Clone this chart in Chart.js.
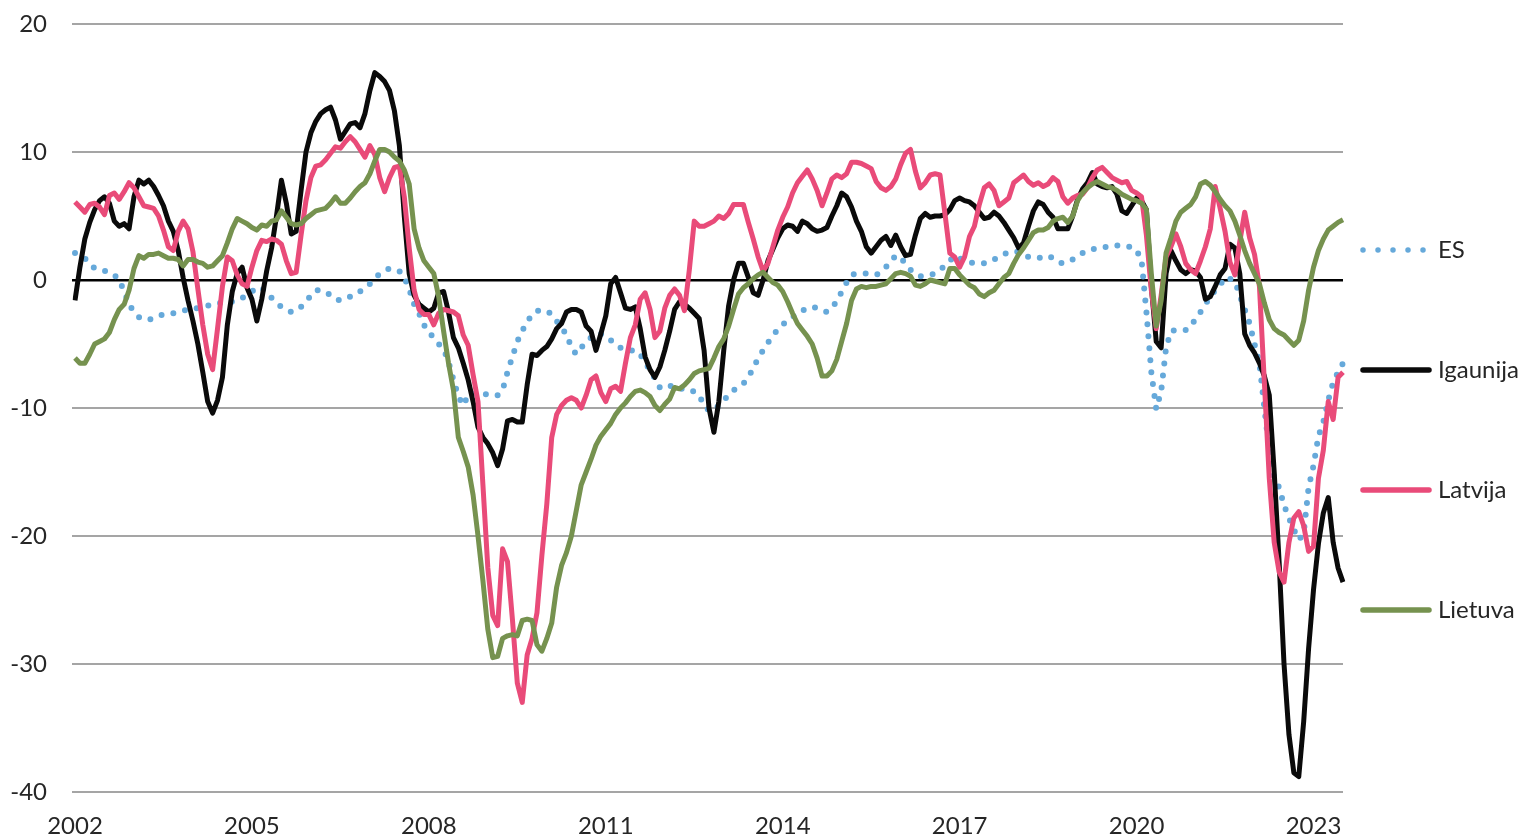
<!DOCTYPE html>
<html>
<head>
<meta charset="utf-8">
<script src="https://cdn.jsdelivr.net/npm/chart.js"></script>
<style>
html,body{margin:0;padding:0;background:#ffffff;}
#wrap{width:1527px;height:838px;position:relative;}
</style>
</head>
<body>
<div id="wrap"><canvas id="c" width="1527" height="838"></canvas></div>
<script>
const startYear = 2002;
const tickYears = [2002, 2005, 2008, 2011, 2014, 2017, 2020, 2023];
const seriesNames = ["ES", "Igaunija", "Latvija", "Lietuva"];

const es = [
 2.1, 1.9, 1.7, 1.3, 0.9, 0.8, 0.7, 0.65, 0.4, 0.0,
 -0.9, -1.9, -2.5, -2.9, -3.1, -3.1, -3.0, -2.8, -2.7, -2.6,
 -2.6, -2.5, -2.4, -2.3, -2.2, -2.2, -2.1, -2.0, -1.9, -1.8,
 -1.8, -1.7, -1.7, -1.6, -1.4, -1.2, -0.9, -0.6, -0.6, -1.0,
 -1.4, -1.8, -2.1, -2.3, -2.5, -2.4, -2.1, -1.7, -1.2, -0.8,
 -0.8, -0.9, -1.2, -1.5, -1.6, -1.5, -1.3, -1.2, -0.9, -0.6,
 -0.3, 0.1, 0.5, 0.7, 0.9, 0.8, 0.7, 0.2, -0.7, -1.9,
 -2.6, -3.5, -4.1, -4.5, -5.0, -5.4, -6.4, -7.8, -9.1, -9.8,
 -9.0, -8.9, -8.8, -8.8, -9.0, -9.0, -9.0, -8.6, -7.2, -6.0,
 -4.8, -4.0, -3.2, -2.8, -2.4, -2.4, -2.4, -2.7, -3.2, -3.8,
 -4.2, -5.3, -5.8, -5.3, -4.8, -4.5, -4.2, -4.2, -4.4, -4.7,
 -5.0, -5.3, -5.5, -5.5, -5.5, -5.8, -6.5, -7.0, -7.7, -8.4,
 -8.5, -8.3, -8.2, -8.4, -8.6, -8.7, -8.7, -9.0, -9.8, -10.2,
 -10.2, -9.8, -9.4, -9.0, -8.6, -8.4, -8.1, -7.6, -6.9, -6.1,
 -5.5, -4.9, -4.3, -3.9, -3.5, -3.1, -2.9, -2.6, -2.4, -2.2,
 -2.1, -2.2, -2.4, -2.5, -2.1, -1.7, -0.9, -0.2, 0.4, 0.5,
 0.5, 0.5, 0.4, 0.4, 0.6, 1.0, 1.5, 1.9, 1.8, 1.2,
 0.8, 0.5, 0.3, 0.3, 0.4, 0.5, 0.8, 1.1, 1.5, 1.9,
 1.7, 1.5, 1.4, 1.3, 1.3, 1.3, 1.4, 1.6, 1.8, 2.0,
 2.2, 2.2, 2.2, 2.0, 1.8, 1.7, 1.7, 1.8, 1.9, 1.7,
 1.4, 1.3, 1.4, 1.6, 1.8, 2.1, 2.3, 2.4, 2.5, 2.5,
 2.6, 2.6, 2.7, 2.7, 2.6, 2.6, 2.3, 1.6, -2.5, -7.2,
 -10.1, -8.7, -5.3, -4.0, -3.9, -3.9, -3.9, -3.7, -3.0, -2.5,
 -1.9, -1.3, -0.8, -0.4, 0.2, 0.1, -0.1, -1.2, -2.3, -3.4,
 -5.0, -6.5, -10.0, -13.3, -15.5, -16.2, -17.6, -18.6, -19.5, -20.3,
 -19.8, -16.2, -14.5, -12.2, -11.1, -9.4, -8.0, -7.2, -6.5
];

const igaunija = [
 -1.6, 1.0, 3.2, 4.5, 5.5, 6.2, 6.5, 6.0, 4.6, 4.2,
 4.4, 4.0, 6.5, 7.8, 7.5, 7.8, 7.3, 6.6, 5.8, 4.6,
 3.8, 2.3, 0.2, -1.6, -3.2, -5.0, -7.2, -9.5, -10.4, -9.4,
 -7.6, -3.5, -0.9, 0.5, 1.0, -0.6, -1.5, -3.2, -1.5, 0.7,
 2.5, 5.0, 7.8, 6.0, 3.6, 3.8, 7.0, 10.0, 11.5, 12.4,
 13.0, 13.3, 13.5, 12.5, 11.0, 11.6, 12.2, 12.3, 11.9, 13.0,
 14.8, 16.2, 15.9, 15.5, 14.8, 13.2, 10.5, 5.0, 0.5, -1.2,
 -1.9, -2.2, -2.5, -2.2, -1.0, -0.9, -2.5, -4.5, -5.3, -6.5,
 -7.8, -9.5, -11.5, -12.3, -12.8, -13.5, -14.5, -13.2, -11.0, -10.9,
 -11.1, -11.1, -8.2, -5.8, -5.9, -5.5, -5.2, -4.6, -3.8, -3.4,
 -2.5, -2.3, -2.3, -2.5, -3.6, -4.0, -5.5, -4.2, -2.8, -0.3,
 0.2, -1.0, -2.2, -2.3, -2.1, -3.8, -6.0, -7.0, -7.6, -6.8,
 -5.5, -4.0, -2.3, -1.7, -1.9, -2.2, -2.6, -3.0, -5.5, -10.0,
 -11.9, -9.5, -5.5, -2.0, 0.0, 1.3, 1.3, 0.2, -1.0, -1.2,
 0.0, 1.5, 2.4, 3.3, 4.0, 4.3, 4.2, 3.8, 4.6, 4.4,
 4.0, 3.8, 3.9, 4.1, 5.0, 5.8, 6.8, 6.5, 5.7, 4.6,
 3.8, 2.6, 2.1, 2.6, 3.1, 3.4, 2.7, 3.5, 2.6, 1.9,
 2.0, 3.5, 4.8, 5.2, 4.9, 5.0, 5.0, 5.1, 5.5, 6.2,
 6.4, 6.2, 6.1, 5.8, 5.3, 4.8, 4.9, 5.3, 5.0, 4.5,
 3.9, 3.3, 2.5, 2.9, 4.2, 5.4, 6.1, 5.9, 5.3, 4.9,
 4.0, 4.0, 4.0, 5.0, 6.3, 7.1, 7.6, 8.4, 7.5, 7.3,
 7.2, 7.3, 6.7, 5.4, 5.2, 5.8, 6.4, 6.2, 5.5, -0.5,
 -4.8, -5.3, 0.5, 2.3, 1.5, 0.8, 0.5, 0.8, 0.7, 0.2,
 -1.5, -1.3, -0.5, 0.4, 0.9, 2.8, 2.5, 0.5, -4.2, -5.1,
 -5.7, -6.5, -7.5, -9.0, -15.0, -22.0, -30.0, -35.5, -38.5, -38.8,
 -34.5, -28.8, -24.2, -20.6, -18.2, -17.0, -20.5, -22.5, -23.6
];

const latvija = [
 6.1, 5.7, 5.3, 5.9, 6.0, 5.7, 5.1, 6.6, 6.8, 6.3,
 6.9, 7.6, 7.2, 6.5, 5.8, 5.7, 5.6, 5.0, 3.9, 2.6,
 2.3, 3.8, 4.6, 4.0, 2.2, -0.7, -3.5, -5.8, -7.0, -3.8,
 -0.5, 1.8, 1.5, 0.4, -0.3, -0.5, 1.0, 2.3, 3.1, 3.0,
 3.2, 3.1, 2.8, 1.5, 0.5, 0.6, 3.5, 6.2, 8.0, 8.9,
 9.0, 9.4, 9.9, 10.4, 10.3, 10.8, 11.2, 10.8, 10.2, 9.6,
 10.5, 9.8, 8.0, 6.9, 8.0, 8.8, 8.9, 6.5, 2.5, -0.8,
 -2.3, -2.7, -2.7, -3.5, -2.6, -2.3, -2.4, -2.5, -2.8, -4.3,
 -5.1, -7.4, -9.5, -16.0, -22.5, -26.2, -27.0, -21.0, -22.0, -26.5,
 -31.5, -33.0, -29.3, -28.0, -26.0, -21.5, -17.5, -12.3, -10.5, -9.8,
 -9.4, -9.2, -9.4, -10.0, -9.0, -7.8, -7.5, -8.8, -9.5, -8.5,
 -8.3, -8.7, -6.5, -4.5, -3.5, -1.5, -1.0, -2.3, -4.5, -4.0,
 -2.2, -1.2, -0.7, -1.2, -2.4, 0.8, 4.6, 4.2, 4.2, 4.4,
 4.6, 5.0, 4.8, 5.2, 5.9, 5.9, 5.9, 4.5, 3.2, 1.8,
 0.7, 1.3, 2.6, 3.9, 4.9, 5.7, 6.8, 7.6, 8.1, 8.6,
 7.9, 7.0, 5.8, 6.8, 7.9, 8.2, 8.0, 8.3, 9.2, 9.2,
 9.1, 8.9, 8.7, 7.7, 7.2, 7.0, 7.3, 7.9, 9.0, 9.9,
 10.2, 8.5, 7.2, 7.6, 8.2, 8.3, 8.2, 5.2, 2.1, 1.8,
 1.0, 1.8, 3.4, 4.2, 5.9, 7.2, 7.5, 7.0, 5.8, 6.1,
 6.4, 7.6, 7.9, 8.2, 7.7, 7.4, 7.6, 7.3, 7.5, 8.0,
 7.7, 6.5, 6.0, 6.4, 6.6, 6.7, 7.2, 8.0, 8.6, 8.8,
 8.4, 8.0, 7.8, 7.6, 7.7, 7.0, 6.8, 6.5, 3.5, -0.8,
 -3.8, -1.2, 1.8, 2.6, 3.6, 2.6, 1.3, 0.8, 0.5, 1.5,
 2.6, 4.0, 7.3, 5.6, 3.8, 1.4, 0.4, 3.0, 5.3, 3.3,
 2.0, -0.5, -8.0, -15.5, -20.5, -22.8, -23.6, -20.5, -18.6, -18.1,
 -19.2, -21.2, -20.8, -15.5, -13.3, -9.5, -10.9, -7.6, -7.2
];

const lietuva = [
 -6.1, -6.5, -6.5, -5.8, -5.0, -4.8, -4.6, -4.1, -3.1, -2.3,
 -1.9, -0.8, 0.9, 1.9, 1.7, 2.0, 2.0, 2.1, 1.9, 1.7,
 1.7, 1.6, 1.1, 1.6, 1.6, 1.4, 1.3, 1.0, 1.1, 1.5,
 1.9, 2.9, 4.0, 4.8, 4.6, 4.4, 4.1, 3.9, 4.3, 4.2,
 4.6, 4.7, 5.4, 4.9, 4.4, 4.3, 4.4, 4.8, 5.1, 5.4,
 5.5, 5.6, 6.0, 6.5, 6.0, 6.0, 6.4, 6.9, 7.3, 7.6,
 8.3, 9.3, 10.2, 10.2, 10.0, 9.6, 9.3, 8.6, 7.5, 4.0,
 2.5, 1.5, 1.0, 0.5, -1.3, -4.0, -6.5, -8.6, -12.3, -13.4,
 -14.6, -16.8, -20.0, -23.5, -27.3, -29.5, -29.4, -28.0, -27.8, -27.7,
 -27.8, -26.6, -26.5, -26.6, -28.5, -29.0, -28.0, -26.8, -24.0, -22.3,
 -21.3, -20.0, -18.0, -16.0, -15.0, -14.0, -12.9, -12.2, -11.7, -11.2,
 -10.5, -10.0, -9.6, -9.1, -8.7, -8.6, -8.8, -9.1, -9.8, -10.2,
 -9.7, -9.3, -8.4, -8.5, -8.2, -7.8, -7.3, -7.1, -7.0, -6.9,
 -6.1, -5.2, -4.6, -3.6, -2.3, -1.1, -0.6, -0.3, 0.1, 0.4,
 0.6, 0.2, -0.2, -0.4, -0.9, -1.7, -2.6, -3.4, -3.9, -4.4,
 -5.0, -6.1, -7.5, -7.5, -7.1, -6.2, -4.8, -3.4, -1.6, -0.7,
 -0.5, -0.6, -0.5, -0.5, -0.4, -0.3, 0.1, 0.5, 0.6, 0.5,
 0.3, -0.4, -0.5, -0.3, 0.0, -0.1, -0.2, -0.3, 0.9, 0.9,
 0.4, 0.0, -0.4, -0.6, -1.1, -1.3, -1.0, -0.8, -0.3, 0.2,
 0.5, 1.3, 2.0, 2.5, 3.1, 3.7, 3.9, 3.9, 4.1, 4.6,
 4.8, 4.9, 4.5, 5.0, 6.2, 6.8, 7.2, 7.5, 7.7, 7.5,
 7.3, 7.2, 7.0, 6.7, 6.5, 6.3, 6.2, 6.0, 5.5, 0.5,
 -3.6, -1.6, 2.1, 3.3, 4.6, 5.3, 5.6, 5.9, 6.5, 7.5,
 7.7, 7.4, 6.9, 6.3, 5.8, 5.4, 4.6, 3.5, 2.3, 1.3,
 0.5, -0.3, -1.8, -3.1, -3.8, -4.1, -4.3, -4.7, -5.1, -4.7,
 -3.2, -0.8, 1.0, 2.3, 3.2, 3.9, 4.2, 4.5, 4.7
];

const categories = [];
for (let i = 0; i < igaunija.length; i++) {
  const y = startYear + Math.floor(i / 12);
  const mo = (i % 12) + 1;
  categories.push(y + "-" + String(mo).padStart(2, "0"));
}

const colors = {
  ES: "#66A9DA",
  Igaunija: "#0a0a0a",
  Latvija: "#E94B79",
  Lietuva: "#76924F"
};

const FONT = "Lato";

const sideLegend = {
  id: "sideLegend",
  afterDraw(chart) {
    const ctx = chart.ctx;
    const rows = [250, 370, 490, 610];
    chart.data.datasets.forEach((ds, i) => {
      const y = rows[i];
      ctx.save();
      ctx.strokeStyle = ds.borderColor;
      ctx.lineWidth = 5.5;
      ctx.lineCap = "round";
      if (ds.borderDash && ds.borderDash.length) {
        ctx.setLineDash([0, 15]);
        ctx.beginPath();
        ctx.moveTo(1363, y);
        ctx.lineTo(1424, y);
        ctx.stroke();
      } else {
        ctx.beginPath();
        ctx.moveTo(1363, y);
        ctx.lineTo(1429, y);
        ctx.stroke();
      }
      ctx.setLineDash([]);
      ctx.fillStyle = "#262626";
      ctx.font = "24px " + FONT;
      ctx.textAlign = "left";
      ctx.textBaseline = "middle";
      ctx.fillText(ds.label, 1438, y);
      ctx.restore();
    });
  }
};

const ctx = document.getElementById("c").getContext("2d");
new Chart(ctx, {
  type: "line",
  data: {
    labels: categories,
    datasets: [
      { label: seriesNames[0], data: es, borderColor: colors.ES, borderWidth: 6,
        borderDash: [0, 12], borderCapStyle: "round", order: 4 },
      { label: seriesNames[1], data: igaunija, borderColor: colors.Igaunija, borderWidth: 5, order: 3 },
      { label: seriesNames[2], data: latvija, borderColor: colors.Latvija, borderWidth: 5, order: 2 },
      { label: seriesNames[3], data: lietuva, borderColor: colors.Lietuva, borderWidth: 5, order: 1 }
    ]
  },
  options: {
    responsive: false,
    devicePixelRatio: 1,
    animation: false,
    layout: { padding: { left: 0, right: 184, top: 24, bottom: 0 } },
    elements: {
      point: { radius: 0, hoverRadius: 0 },
      line: { tension: 0, borderJoinStyle: "round", fill: false }
    },
    plugins: { legend: { display: false }, tooltip: { enabled: false } },
    scales: {
      x: {
        type: "category",
        offset: false,
        grid: { display: false, drawTicks: false },
        border: { display: false },
        afterFit(scale) { scale.height = 46; },
        ticks: {
          autoSkip: false, maxRotation: 0, minRotation: 0, padding: 20,
          color: "#262626", font: { family: FONT, size: 24 },
          callback(val, idx) {
            const lab = categories[idx];
            const yr = parseInt(lab.slice(0, 4), 10);
            return (lab.endsWith("-01") && tickYears.includes(yr)) ? String(yr) : null;
          }
        }
      },
      y: {
        min: -40, max: 20,
        afterFit(scale) {
          scale.width = 75;
          scale.paddingTop = 10;
          scale.paddingBottom = 10;
        },
        border: { display: false },
        grid: {
          drawTicks: true, tickLength: 3,
          color: (c) => (c.tick && c.tick.value === 0) ? "#000000" : "#A5A5A5",
          lineWidth: (c) => (c.tick && c.tick.value === 0) ? 2.5 : 2
        },
        ticks: {
          stepSize: 10, padding: 25, color: "#262626",
          font: { family: FONT, size: 24 }
        }
      }
    }
  },
  plugins: [sideLegend]
});
</script>
</body>
</html>
